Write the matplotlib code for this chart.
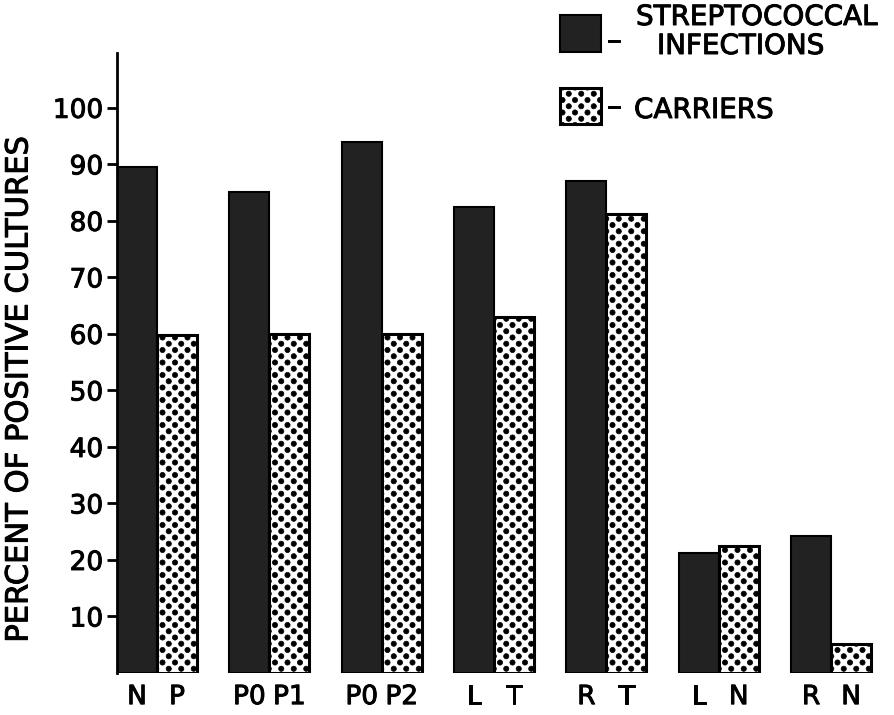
import matplotlib
matplotlib.use('Agg')
import matplotlib.pyplot as plt
import matplotlib.patheffects as pe
from matplotlib import hatch as mhatch
from matplotlib.path import Path
from matplotlib.patches import Rectangle
import numpy as np

plt.rcParams['font.family'] = ['DejaVu Sans']
plt.rcParams['hatch.linewidth'] = 0.5

# data
sites = [('N', 'P'), ('P0', 'P1'), ('P0', 'P2'), ('L', 'T'), ('R', 'T'), ('L', 'N'), ('R', 'N')]
infections = [89.5, 85.1, 93.9, 82.4, 87.0, 21.3, 24.2]
carriers = [59.8, 59.9, 59.9, 63.0, 81.2, 22.5, 5.1]
yticks = [10, 20, 30, 40, 50, 60, 70, 80, 90, 100]

W, H = 894, 715
DARK = '#222222'
heavy = [pe.withStroke(linewidth=0.7, foreground='black')]


class BigDots(mhatch.HatchPatternBase):
    """Staggered filled dots, like the old stipple film; replaces the '.' hatch."""

    def __init__(self, hatch, density):
        n = hatch.count('.')
        self.cols = 8 * n
        self.rows = 2 * self.cols
        circ = Path.unit_circle()
        self.cv, self.cc = circ.vertices, circ.codes
        self.centers = []
        if n:
            for i in range(self.rows + 1):
                off = 0.5 if i % 2 else 0.0
                for j in range(self.cols + 1):
                    self.centers.append(((j + off) / self.cols, i / self.rows))
        self.num_vertices = len(self.centers) * len(self.cv)

    def set_vertices_and_codes(self, vertices, codes):
        r = 0.026
        k = len(self.cv)
        for m, (cx, cy) in enumerate(self.centers):
            vertices[m * k:(m + 1) * k] = self.cv * r + (cx, cy)
            codes[m * k:(m + 1) * k] = self.cc


mhatch._hatch_types = [BigDots if t is mhatch.SmallFilledCircles else t
                       for t in mhatch._hatch_types]


def fpx(x, y):
    # figure pixel (from top-left) -> figure fraction
    return x / W, 1 - y / H


fig = plt.figure(figsize=(W / 100, H / 100), dpi=100)
ax = fig.add_axes([117 / W, 1 - 673 / H, (W - 117) / W, (673 - 53) / H])

x = np.arange(len(sites))
w = 0.356
ax.bar(x - w / 2, infections, w, color=DARK, edgecolor='black', linewidth=1.5)
ax.bar(x + w / 2, carriers, w, color='white', edgecolor='black', linewidth=2.2, hatch='.')

ax.set_xlim(-w, 6.56)
ax.set_ylim(0, 109.7)

for s in ['top', 'right', 'bottom']:
    ax.spines[s].set_visible(False)
ax.spines['left'].set_linewidth(2)

ax.set_yticks(yticks)
ax.tick_params(axis='y', length=7, width=2, pad=3, labelsize=19)

centers = np.concatenate([x - w / 2, x + w / 2])
labels = [s[0] for s in sites] + [s[1] for s in sites]
ax.set_xticks(centers)
ax.set_xticklabels(labels)
ax.tick_params(axis='x', length=0, pad=8, labelsize=19)

for t in ax.get_xticklabels() + ax.get_yticklabels():
    t.set_path_effects(heavy)

fig.text(*fpx(19, 390), 'PERCENT OF POSITIVE CULTURES', rotation=90,
         ha='center', va='center', fontsize=22, path_effects=heavy)

# legend, drawn by hand like the original
fig.patches.append(Rectangle(fpx(560, 52), 41 / W, 37 / H, transform=fig.transFigure,
                             facecolor=DARK, edgecolor='black', linewidth=1.5))
fig.patches.append(Rectangle(fpx(560, 124), 41 / W, 36 / H, transform=fig.transFigure,
                             facecolor='white', edgecolor='black', linewidth=2.2, hatch='.'))
fig.text(*fpx(607, 41), '–', ha='left', va='center', fontsize=20, path_effects=heavy)
fig.text(*fpx(636, 25), 'STREPTOCOCCAL', ha='left', va='baseline', fontsize=20, path_effects=heavy)
fig.text(*fpx(657, 54), 'INFECTIONS', ha='left', va='baseline', fontsize=20, path_effects=heavy)
fig.text(*fpx(607, 107), '–', ha='left', va='center', fontsize=20, path_effects=heavy)
fig.text(*fpx(634, 118), 'CARRIERS', ha='left', va='baseline', fontsize=20, path_effects=heavy)

fig.savefig('out.png', dpi=100, facecolor='white')
